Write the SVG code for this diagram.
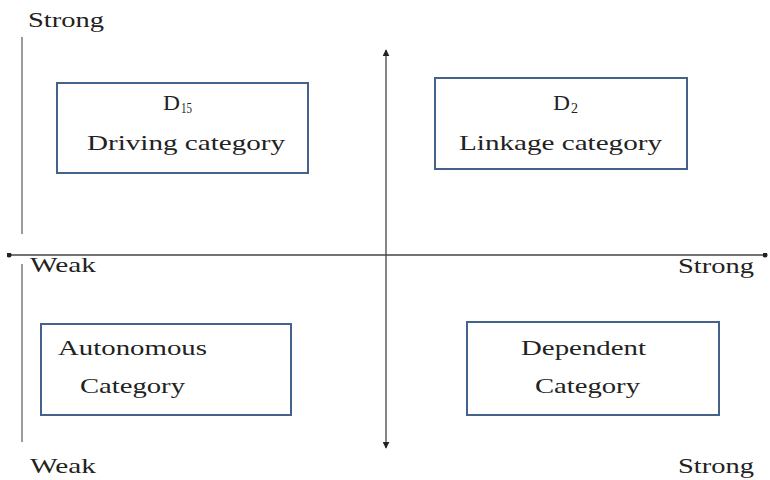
<svg xmlns="http://www.w3.org/2000/svg" width="770" height="480" viewBox="0 0 770 480">
<style>
text{font-family:"Liberation Serif","Times New Roman",serif;font-size:22px;fill:#222}
.sub{font-size:14px}
.box{fill:#fff;stroke:#44628c;stroke-width:2}
.ax{stroke:#444;stroke-width:1.3;fill:none}
.side{stroke:#666;stroke-width:1.3;fill:none}
</style>
<defs>
<marker id="tri" viewBox="0 0 10 10" refX="9" refY="5" markerWidth="7" markerHeight="7" orient="auto-start-reverse" markerUnits="userSpaceOnUse">
<path d="M0,0 L10,5 L0,10 z" fill="#222"/>
</marker>
<marker id="dot" viewBox="0 0 10 10" refX="5" refY="5" markerWidth="5" markerHeight="5" markerUnits="userSpaceOnUse">
<circle cx="5" cy="5" r="5" fill="#222"/>
</marker>
</defs>
<rect width="770" height="480" fill="#fff"/>
<g id="connectors">
<line class="ax" x1="386" y1="50" x2="386" y2="448" marker-start="url(#tri)" marker-end="url(#tri)"/>
<line class="ax" x1="9" y1="255" x2="765" y2="255" marker-start="url(#dot)" marker-end="url(#dot)"/>
<line class="side" x1="22" y1="37" x2="22" y2="234"/>
<line class="side" x1="22" y1="264" x2="22" y2="442"/>
</g>
<g id="labels">
<text x="28" y="27" textLength="76" lengthAdjust="spacingAndGlyphs">Strong</text>
<text x="30" y="272" textLength="66" lengthAdjust="spacingAndGlyphs">Weak</text>
<text x="678" y="273" textLength="76" lengthAdjust="spacingAndGlyphs">Strong</text>
<text x="30" y="473" textLength="66" lengthAdjust="spacingAndGlyphs">Weak</text>
<text x="678" y="473" textLength="76" lengthAdjust="spacingAndGlyphs">Strong</text>
</g>
<g id="driving">
<rect class="box" x="57" y="83" width="251" height="90"/>
<text x="163" y="110" textLength="17" lengthAdjust="spacingAndGlyphs">D</text>
<text class="sub" x="181" y="113" textLength="11" lengthAdjust="spacingAndGlyphs">15</text>
<text x="87" y="150" textLength="198" lengthAdjust="spacingAndGlyphs">Driving category</text>
</g>
<g id="linkage">
<rect class="box" x="435" y="78" width="252" height="91"/>
<text x="553" y="110" textLength="17" lengthAdjust="spacingAndGlyphs">D</text>
<text class="sub" x="571" y="113" textLength="7" lengthAdjust="spacingAndGlyphs">2</text>
<text x="459" y="150" textLength="203" lengthAdjust="spacingAndGlyphs">Linkage category</text>
</g>
<g id="autonomous">
<rect class="box" x="41" y="324" width="250" height="91"/>
<text x="58" y="355" textLength="149" lengthAdjust="spacingAndGlyphs">Autonomous</text>
<text x="80" y="393" textLength="105" lengthAdjust="spacingAndGlyphs">Category</text>
</g>
<g id="dependent">
<rect class="box" x="467" y="322" width="252" height="93"/>
<text x="521" y="355" textLength="125" lengthAdjust="spacingAndGlyphs">Dependent</text>
<text x="535" y="393" textLength="105" lengthAdjust="spacingAndGlyphs">Category</text>
</g>
</svg>
